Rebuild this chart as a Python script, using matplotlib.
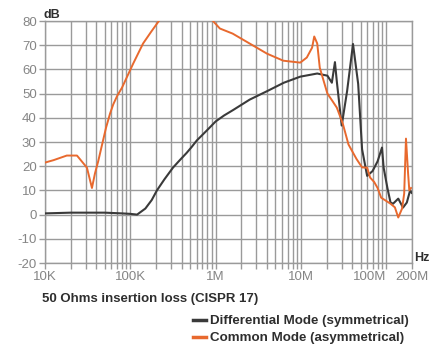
import numpy as np
from matplotlib import pyplot as plt
from matplotlib.ticker import FixedLocator, NullFormatter

# differential mode (symmetrical) - Hz / dB
dm_freq = [10e3, 20e3, 50e3, 80e3, 100e3, 120e3, 150e3, 178e3, 205e3, 250e3,
           316e3, 380e3, 457e3, 525e3, 600e3, 800e3, 1e6, 1.26e6, 1.6e6, 2.5e6,
           4e6, 6.3e6, 9.8e6, 15.5e6, 20.4e6, 23e6, 25e6, 26.3e6,
           30e6, 34.7e6, 40.7e6, 46.8e6, 52e6, 59.6e6, 69e6, 79e6, 89e6, 93e6,
           103e6, 112e6, 120e6, 138e6, 157e6, 174e6, 190e6, 198e6]
dm_db = [0.5, 0.8, 0.8, 0.5, 0.3, 0.0, 2.5, 6, 10, 14.5,
         19.4, 22.5, 25.5, 28, 30.6, 35, 38.5, 41, 43.2, 47.5,
         51, 54.5, 57, 58.3, 57.4, 54.5, 63, 55,
         36.8, 51, 70.5, 54, 27, 16, 18, 22, 27.7, 19.4,
         11, 5, 4.5, 6.6, 2.9, 5, 10, 9]

# common mode (asymmetrical) - goes off the top between ~215K and ~930K
cm_freq = [10e3, 12.6e3, 18e3, 23.7e3, 31e3, 35.5e3, 38.5e3, 42e3, 46e3, 52e3,
           57.8e3, 63e3, 70e3, 80e3, 108e3, 141e3, 175e3, 211e3, 216e3, np.nan,
           0.93e6, 1.12e6, 1.58e6, 2.5e6, 4e6,
           6.2e6, 9.8e6, 11.7e6, 13.5e6, 14.3e6, 15.5e6, 16.6e6, 20.4e6, 23.2e6, 26.3e6,
           30.9e6, 36e6, 44.7e6, 52e6, 59.6e6, 64.6e6, 72e6, 79e6, 87e6, 112e6,
           126e6, 138e6, 153e6, 162e6, 170e6, 180e6, 186e6, 195e6]
cm_db = [21.5, 22.5, 24.4, 24.4, 19.4, 11, 17, 22, 28, 36,
         41.7, 45.5, 49, 52.5, 62.4, 70.7, 75.5, 79.5, 80, np.nan,
         80, 76.9, 74.8, 70.7, 66.5,
         63.6, 62.8, 64.9, 69, 73.6, 70.7, 60.7, 50, 47.1, 44.2,
         37.6, 29, 23, 19.5, 19.4, 15.3, 13.5, 11, 7, 4.5,
         3, -1.2, 2.5, 8.7, 31.4, 17, 10, 11]

x_ticks = [10e3, 100e3, 1e6, 10e6, 100e6, 200e6]
x_labels = ["10K", "100K", "1M", "10M", "100M", "200M"]
y_ticks = [-20, -10, 0, 10, 20, 30, 40, 50, 60, 70, 80]

plt.rcParams['font.family'] = ['Liberation Sans', 'DejaVu Sans']

grid_c = '#9a9a9a'
label_c = '#858585'
text_c = '#2e2e2e'

fig = plt.figure(figsize=(4.31, 3.53), dpi=100, facecolor='w')
ax = fig.add_axes([45/431, 1-263/353, (412-45)/431, (263-21)/353])

ax.plot(dm_freq, dm_db, color='#3a3a3a', lw=1.5, label='Differential Mode (symmetrical)', zorder=3)
ax.plot(cm_freq, cm_db, color='#e8692e', lw=1.4, label='Common Mode (asymmetrical)', zorder=4)

ax.set_xscale('log')
ax.set_xlim(10e3, 200e6)
ax.set_ylim(-20, 80)

minor = [m * 10**d for d in range(4, 9) for m in range(2, 10) if m * 10**d < 200e6]
ax.xaxis.set_major_locator(FixedLocator(x_ticks))
ax.xaxis.set_minor_locator(FixedLocator(minor))
ax.xaxis.set_minor_formatter(NullFormatter())
ax.set_xticklabels(x_labels)
ax.set_yticks(y_ticks)
ax.set_yticklabels([str(v) for v in y_ticks])

ax.grid(True, which='both', axis='x', color=grid_c, lw=1.0)
ax.grid(True, which='major', axis='y', color=grid_c, lw=1.0)
ax.tick_params(axis='both', which='both', color=grid_c, width=1.0, length=4,
               labelcolor=label_c, labelsize=9.5, pad=2)
for s in ax.spines.values():
    s.set_color(grid_c)
    s.set_linewidth(1.0)

lbls = ax.get_xticklabels()
lbls[4].set_horizontalalignment('right')

fig.text(44/431, 1-15/353, 'dB', fontsize=9, fontweight='bold', color=text_c, va='center')
fig.text(414/431, 1-258/353, 'Hz', fontsize=9, fontweight='bold', color=text_c, va='center')
fig.text(42/431, 1-299/353, '50 Ohms insertion loss (CISPR 17)', fontsize=9.5,
         fontweight='bold', color=text_c, va='center')

fig.legend(loc='upper left', bbox_to_anchor=(193/431, 1-315/353), frameon=False,
           handlelength=1.0, handletextpad=0.3, borderpad=0, borderaxespad=0,
           labelspacing=0.35, prop={'weight': 'bold', 'size': 9.6}, labelcolor=text_c)
for h in fig.legends[0].legend_handles:
    h.set_linewidth(2.5)

fig.savefig('out.png', dpi=100, facecolor='w')
